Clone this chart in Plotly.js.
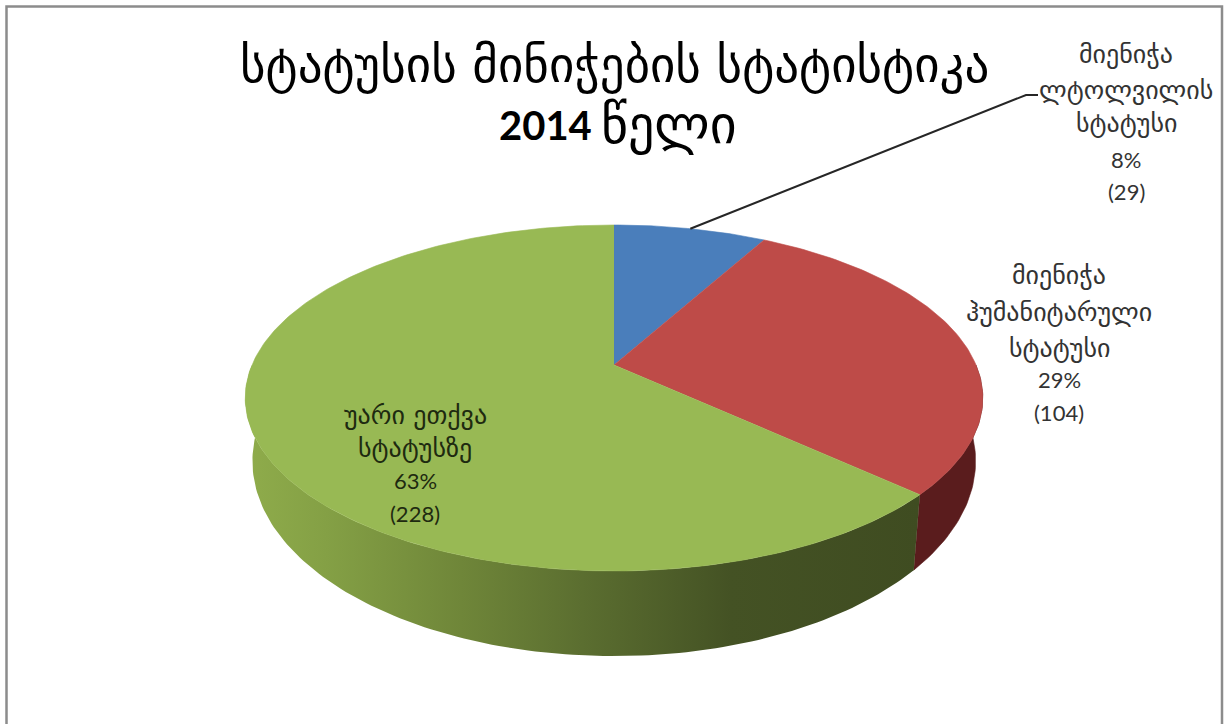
<!DOCTYPE html>
<html>
<head>
<meta charset="utf-8">
<script src="https://cdn.plot.ly/plotly-3.0.1.min.js"></script>
<style>html,body{margin:0;padding:0;background:#fff}#chart{width:1224px;height:724px}</style>
</head>
<body>
<div id="chart"></div>
<script>
const categories = ["მიენიჭა ლტოლვილის სტატუსი", "მიენიჭა ჰუმანიტარული სტატუსი", "უარი ეთქვა სტატუსზე"];
const values = [29, 104, 228];
const topColors = ["#4a7ebb", "#be4b48", "#98b954"];
const titleLine1 = "სტატუსის მინიჭების სტატისტიკა";
const titleYear = "2014";
const titleLine2 = "წელი";

const labelLineBreaks = [
  ["მიენიჭა", "ლტოლვილის", "სტატუსი"],
  ["მიენიჭა", "ჰუმანიტარული", "სტატუსი"],
  ["უარი ეთქვა", "სტატუსზე"]
];

const total = values.reduce((a, b) => a + b, 0);
const CX = 614;
const topRim = {cy: 365, K: 362, k: 166.7, c: 0.1907};
const botRim = {cy: 424, K: 355, k: 188, c: 0.19};

function project(rim, deg) {
  const t = deg * Math.PI / 180, v = Math.cos(t), s = Math.sin(t), d = 1 + rim.c * v;
  return [CX + rim.K * s / d, rim.cy - rim.k * v / d];
}
function arc(rim, a, b) {
  const n = Math.max(2, Math.ceil(Math.abs(b - a))), out = [];
  for (let i = 0; i <= n; i++) out.push(project(rim, a + (b - a) * i / n));
  return out;
}
function area(points, color, gradient) {
  const tr = {
    x: points.map(p => p[0]), y: points.map(p => p[1]),
    type: "scatter", mode: "lines", fill: "toself",
    line: {width: 0.6, color: gradient ? "rgba(0,0,0,0)" : color},
    fillcolor: color, hoverinfo: "skip", showlegend: false
  };
  if (gradient) tr.fillgradient = gradient;
  return tr;
}

let acc = 0;
const bounds = values.map(v => { const a = acc; acc += v; return [a / total * 360, acc / total * 360]; });

const traces = [];
// side walls (only the parts that face the viewer)
const redSide = [90, bounds[1][1]];
traces.push(area(arc(topRim, redSide[0], redSide[1]).concat(arc(botRim, redSide[1], redSide[0])), "#5a1c1d"));
const greenSide = [bounds[2][0], 270];
traces.push(area(arc(topRim, greenSide[0], greenSide[1]).concat(arc(botRim, greenSide[1], greenSide[0])), "#5f7433", {
  type: "horizontal",
  colorscale: [[0, "#8fac4b"], [0.12, "#84a045"], [0.32, "#6f8639"], [0.5, "#5b6e30"], [0.72, "#445224"], [1, "#3f4c21"]]
}));
// top faces
values.forEach((v, i) => {
  traces.push(area([[CX, topRim.cy]].concat(arc(topRim, bounds[i][0], bounds[i][1])), topColors[i]));
});
// leader line from the first slice to its label
const mid = project(topRim, (bounds[0][0] + bounds[0][1]) / 2);
traces.push({
  x: [mid[0], 1026, 1038], y: [mid[1], 95, 95], type: "scatter", mode: "lines",
  line: {color: "#262626", width: 2}, hoverinfo: "skip", showlegend: false
});

const labelFont = "'DejaVu Sans', sans-serif";
const numFont = "Lato, 'Open Sans', sans-serif";
const labelSpec = [
  {x: 1126, ys: [54, 90, 123, 159, 191], color: "#333333"},
  {x: 1059, ys: [275, 312, 348, 379, 412], color: "#333333"},
  {x: 415, ys: [415, 448, 480, 513], color: "#1e2a10"}
];
const annotations = [];
labelSpec.forEach((spec, i) => {
  const lines = labelLineBreaks[i].concat([Math.round(values[i] / total * 100) + "%", "(" + values[i] + ")"]);
  lines.forEach((text, j) => {
    const isNum = j >= labelLineBreaks[i].length;
    annotations.push({
      x: spec.x, y: spec.ys[j], xref: "x", yref: "y", text, showarrow: false,
      xanchor: "center", yanchor: "middle",
      font: {family: isNum ? numFont : labelFont, size: isNum ? 22 : 26, color: spec.color}
    });
  });
});
annotations.push({
  x: 614, y: 65, xref: "x", yref: "y", text: titleLine1, showarrow: false,
  xanchor: "center", yanchor: "middle", font: {family: labelFont, size: 49, color: "#000"}
});
annotations.push({
  x: 545, y: 125, xref: "x", yref: "y", text: "<b>" + titleYear + "</b>", showarrow: false,
  xanchor: "center", yanchor: "middle", font: {family: "Lato, sans-serif", size: 40, color: "#000"}
});
annotations.push({
  x: 669, y: 125, xref: "x", yref: "y", text: titleLine2, showarrow: false,
  xanchor: "center", yanchor: "middle", font: {family: labelFont, size: 52, color: "#000"}
});

const layout = {
  width: 1224, height: 724,
  margin: {l: 0, r: 0, t: 0, b: 0},
  paper_bgcolor: "#ffffff", plot_bgcolor: "#ffffff",
  xaxis: {range: [0, 1224], visible: false, fixedrange: true},
  yaxis: {range: [724, 0], visible: false, fixedrange: true},
  showlegend: false,
  annotations,
  shapes: [{type: "rect", xref: "x", yref: "y", x0: 6.5, y0: 6.5, x1: 1222, y1: 740,
            line: {color: "#8c8c8c", width: 2.5}, fillcolor: "rgba(0,0,0,0)", layer: "below"}]
};
Plotly.newPlot("chart", traces, layout, {displayModeBar: false, staticPlot: true});
</script>
</body>
</html>
